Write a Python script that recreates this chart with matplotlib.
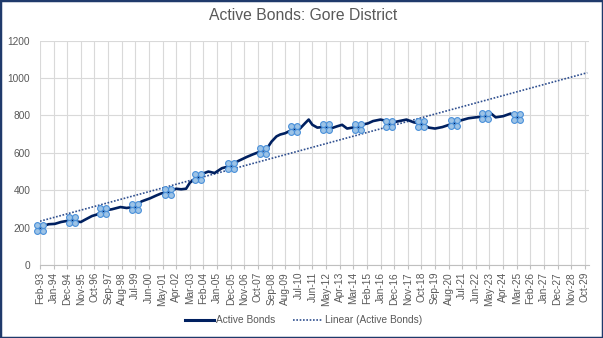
import matplotlib
matplotlib.use('Agg')
import matplotlib.pyplot as plt
import numpy as np
import pandas as pd
from matplotlib.path import Path
from matplotlib.patches import Rectangle

plt.rcParams['font.family'] = ['Liberation Sans', 'DejaVu Sans']

# months counted from Feb-93
months = [0, 4, 7, 12, 17, 22, 26, 30, 33, 36, 42, 46, 51, 58, 65, 70, 77, 82, 89,
          94, 98, 103, 110, 114, 118, 121, 124, 128, 132, 136, 141, 147, 154, 160,
          167, 172, 180, 184, 187, 191, 194, 198, 205, 210, 214, 217, 220, 224, 231,
          236, 240, 244, 248, 257, 260, 265, 269, 275, 279, 282, 288, 296, 302, 308,
          314, 319, 325, 334, 339, 346, 352, 359, 364, 368, 374, 380, 385]
bonds = [200, 212, 218, 220, 230, 236, 240, 232, 230, 241, 262, 270, 290, 298, 310,
         305, 312, 340, 357, 372, 383, 390, 408, 405, 408, 440, 455, 470, 490, 500,
         492, 518, 530, 556, 578, 592, 612, 630, 660, 688, 698, 705, 728, 730, 758,
         778, 750, 735, 740, 733, 742, 750, 730, 740, 750, 758, 770, 778, 772, 755,
         767, 778, 763, 755, 735, 730, 738, 758, 772, 785, 790, 795, 812, 790, 796,
         810, 790]
marker_months = [0, 26, 51, 77, 103, 128, 154, 180, 205, 231, 257, 282, 308, 334, 359, 385]

tick_dates = pd.date_range('1993-02-01', '2029-10-01', freq='MS')[::11]
tick_labels = [d.strftime('%b-%y') for d in tick_dates]
tick_pos = np.arange(len(tick_labels)) * 11
end_month = tick_pos[-1]

# trend line fitted to the series and carried forward to the end of the axis
slope, icpt = np.polyfit(months, bonds, 1)
trend_x = np.array([0, end_month + 2])
trend_y = icpt + slope * trend_x

# marker made of four small circles
circles = [Path.circle((dx, dy), 1.0) for dx in (-1, 1) for dy in (-1, 1)]
quad = Path.make_compound_path(*circles)

fig = plt.figure(figsize=(6.03, 3.38), dpi=100)
ax = fig.add_axes([0.0663, 0.216, 0.9097, 0.6636])

mark_idx = [months.index(m) for m in marker_months]
ax.plot(months, bonds, color='#002060', lw=1.9, marker=quad, markevery=mark_idx,
        markersize=8.5, markerfacecolor='#9DC3E6', markeredgecolor='#4A90D9',
        markeredgewidth=0.8, label='Active Bonds', zorder=3, clip_on=False)
ax.plot(trend_x, trend_y, color='#2F4F8F', lw=1.2, ls=(0, (1, 1)),
        label='Linear (Active Bonds)', zorder=2)

ax.set_xlim(0, end_month + 3)
ax.set_ylim(0, 1200)
ax.set_yticks(range(0, 1201, 200))
ax.set_xticks(tick_pos)
ax.set_xticklabels(tick_labels, rotation=90)
ax.grid(True, color='#D9D9D9', lw=0.8)
ax.set_axisbelow(True)
for s in ['top', 'right', 'left']:
    ax.spines[s].set_visible(False)
ax.spines['bottom'].set_color('#BFBFBF')
ax.tick_params(axis='y', length=0, pad=7, labelsize=7.3, labelcolor='#595959')
ax.tick_params(axis='x', length=3, color='#BFBFBF', pad=2, labelsize=7.3,
               labelcolor='#595959')

fig.suptitle('Active Bonds: Gore District', x=0.503, y=0.975, fontsize=11.3,
             color='#595959')

handles, labels = ax.get_legend_handles_labels()
handles[0] = plt.Line2D([], [], color='#002060', lw=2.2)
fig.legend(handles, labels, loc='center', bbox_to_anchor=(0.503, 0.053), ncol=2,
           frameon=False, fontsize=7.3, handlelength=2.9, handletextpad=0.2,
           columnspacing=1.8, labelcolor='#595959')

fig.patches.append(Rectangle((0, 0), 1, 1, transform=fig.transFigure, fill=False,
                             edgecolor='#1F3A6B', lw=2.5))

fig.savefig('out.png', dpi=100)
